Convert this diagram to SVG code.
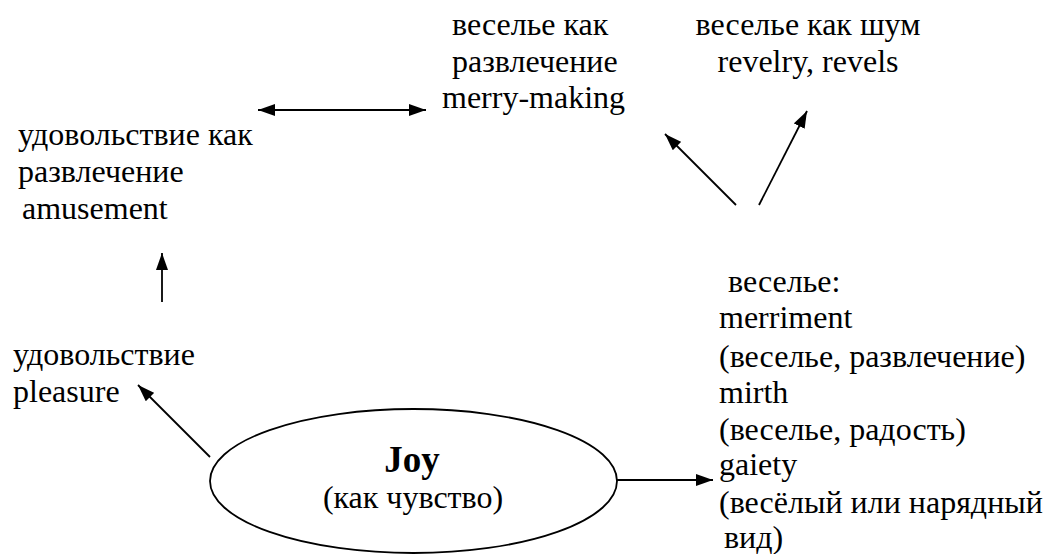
<svg xmlns="http://www.w3.org/2000/svg" width="1049" height="554" viewBox="0 0 1049 554">
<style>
.c{stroke:#000;stroke-width:1.8;fill:none}
.t{font-family:'Liberation Serif','Times New Roman',serif;font-size:32px;fill:#000}
.b{font-weight:bold;font-size:37px}
</style>
<defs>
<marker id="ah" viewBox="0 0 10 10" refX="10" refY="5" markerWidth="17" markerHeight="12" markerUnits="userSpaceOnUse" orient="auto-start-reverse" preserveAspectRatio="none">
<path d="M0,0 L10,5 L0,10 z" fill="#000"/>
</marker>
</defs>
<rect width="1049" height="554" fill="#fff"/>
<g id="connectors">
<line class="c" x1="258" y1="110" x2="426" y2="110" marker-start="url(#ah)" marker-end="url(#ah)"/>
<line class="c" x1="162" y1="302" x2="162" y2="253" marker-end="url(#ah)"/>
<line class="c" x1="210" y1="457" x2="138" y2="385" marker-end="url(#ah)"/>
<line class="c" x1="617" y1="480" x2="713" y2="480" marker-end="url(#ah)"/>
<line class="c" x1="736" y1="205" x2="665" y2="134" marker-end="url(#ah)"/>
<line class="c" x1="759" y1="205" x2="807" y2="111" marker-end="url(#ah)"/>
</g>
<g class="t">
<g id="joy">
<ellipse cx="413.5" cy="481" rx="203.5" ry="72" fill="#fff" stroke="#000" stroke-width="1.8"/>
<text class="b" x="412" y="472" text-anchor="middle">Joy</text>
<text x="413" y="508" text-anchor="middle">(как чувство)</text>
</g>
<g id="merrymaking">
<text x="452" y="35">веселье как</text>
<text x="452" y="72">развлечение</text>
<text x="442" y="108">merry-making</text>
</g>
<g id="revelry">
<text x="808" y="35" text-anchor="middle">веселье как шум</text>
<text x="808" y="72" text-anchor="middle">revelry, revels</text>
</g>
<g id="amusement">
<text x="18" y="145">удовольствие как</text>
<text x="18" y="182">развлечение</text>
<text x="22" y="219">amusement</text>
</g>
<g id="pleasure">
<text x="13" y="365">удовольствие</text>
<text x="13" y="402">pleasure</text>
</g>
<g id="merriment">
<text x="728" y="292">веселье:</text>
<text x="719" y="328">merriment</text>
<text x="719" y="367">(веселье, развлечение)</text>
<text x="719" y="403">mirth</text>
<text x="719" y="440">(веселье, радость)</text>
<text x="719" y="475">gaiety</text>
<text x="719" y="513">(весёлый или нарядный</text>
<text x="724" y="548">вид)</text>
</g>
</g>
</svg>
